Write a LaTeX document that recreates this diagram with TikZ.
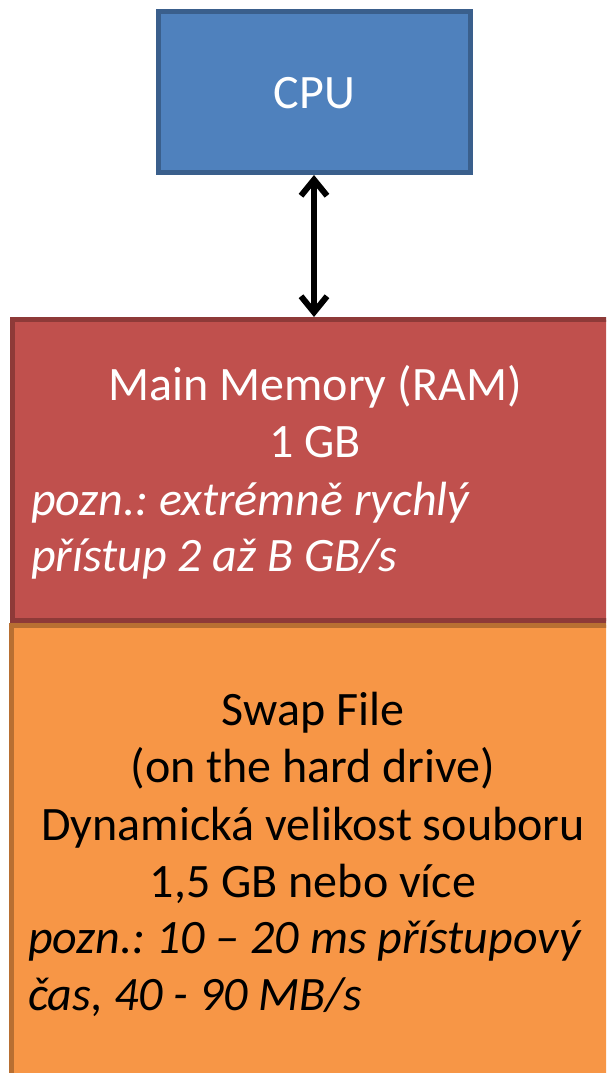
\documentclass[tikz,border=0pt]{standalone}
\usepackage{fontspec}
\setmainfont{Carlito}
\frenchspacing
\usetikzlibrary{arrows.meta}
\definecolor{cpufill}{HTML}{4F81BD}
\definecolor{cpuline}{HTML}{3A5F8C}
\definecolor{ramfill}{HTML}{C0504D}
\definecolor{ramline}{HTML}{8E3A38}
\definecolor{swapfill}{HTML}{F79646}
\definecolor{swapline}{HTML}{B86F32}
\tikzset{
  box/.style={rectangle, line width=5pt, inner sep=0pt, outer sep=0pt},
  lbl/.style={inner sep=0pt, anchor=base, font=\fontsize{48}{58}\selectfont\frenchspacing},
  note/.style={inner sep=0pt, anchor=base west, font=\fontsize{48}{58}\selectfont\itshape\frenchspacing},
  link/.style={line width=6pt, {Straight Barb[length=16pt,width=26pt]}-{Straight Barb[length=16pt,width=26pt]}}
}
\begin{document}
\begin{tikzpicture}[x=1pt,y=-1pt]
\useasboundingbox (0,0) rectangle (606,1073);
\clip (0,0) rectangle (606,1073);
\node[box, fill=cpufill, draw=cpuline, minimum width=312pt, minimum height=161pt] (cpu) at (314.5,92) {};
\node[lbl, text=white] (cputxt) at (314.5,108) {CPU};
\node[box, fill=ramfill, draw=ramline, minimum width=630pt, minimum height=301pt] (ram) at (327,470) {};
\node[box, fill=swapfill, draw=swapline, minimum width=630pt, minimum height=480pt] (swap) at (326,865) {};
\coordinate (ramtop) at (314,317);
\coordinate (cpubot) at (314,175);
\draw[link] (cpubot) -- (ramtop);
\node[lbl, text=white] (r1) at (315,400) {Main Memory (RAM)};
\node[lbl, text=white] (r2) at (315,457) {1 GB};
\node[note, text=white] (r3) at (31,515) {pozn.: extrémně rychlý};
\node[note, text=white] (r4) at (31,571) {přístup 2 až B GB/s};
\node[lbl] (s1) at (313,725) {Swap File};
\node[lbl] (s2) at (313,782) {(on the hard drive)};
\node[lbl] (s3) at (313,840) {Dynamická velikost souboru};
\node[lbl] (s4) at (313,897) {1,5 GB nebo více};
\node[note] (s5) at (28,953) {pozn.: 10 – 20 ms přístupový};
\node[note] (s6) at (28,1010) {čas, 40 - 90 MB/s};
\end{tikzpicture}
\end{document}
